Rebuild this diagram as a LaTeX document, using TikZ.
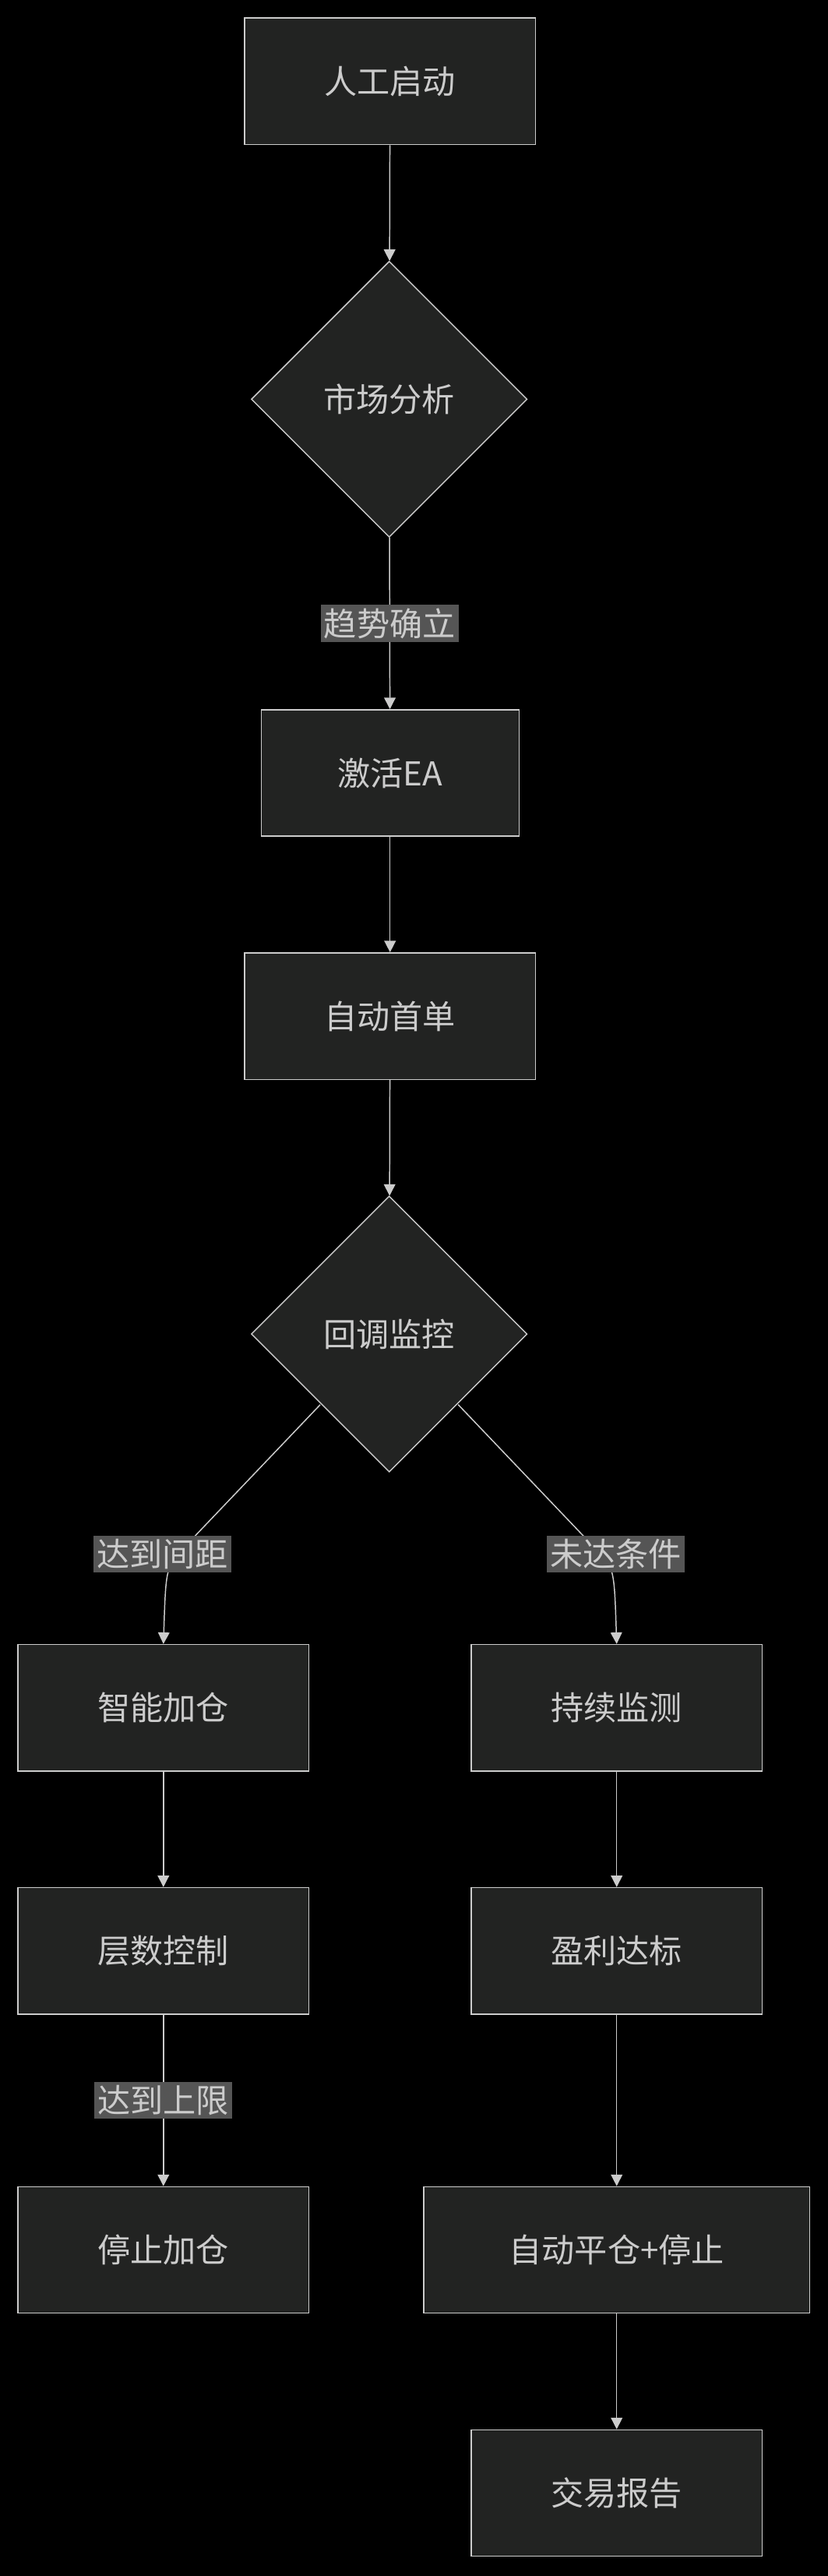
\documentclass[tikz,border=0pt]{standalone}
\usepackage{fontspec}
\setmainfont{Noto Sans CJK SC}
\usetikzlibrary{shapes.geometric,arrows.meta}
\definecolor{bg}{RGB}{0,0,0}
\definecolor{boxfill}{RGB}{34,35,34}
\definecolor{edge}{RGB}{204,204,204}
\definecolor{lblbg}{RGB}{85,85,85}
\tikzset{
  box/.style={rectangle, draw=edge, fill=boxfill, line width=0.7pt, text=edge, minimum width=177pt, minimum height=77pt, font=\fontsize{20}{24}\selectfont},
  dia/.style={diamond, draw=edge, fill=boxfill, line width=0.7pt, text=edge, minimum width=168pt, minimum height=168pt, aspect=1, inner sep=0pt, font=\fontsize{20}{24}\selectfont},
  lbl/.style={fill=lblbg, text=edge, inner sep=2pt, font=\fontsize{20}{24}\selectfont},
  flow/.style={draw=edge, line width=0.7pt, -{Triangle[length=7pt,width=7pt]}}
}
\begin{document}
\begin{tikzpicture}[x=1pt, y=-1pt]
\fill[bg] (0,0) rectangle (504,1568);
\useasboundingbox (0,0) rectangle (504,1568);
\node (start) [box] at (237.5, 49.5) {人工启动};
\node (market) [dia] at (237, 243) {市场分析};
\node (ea) [box, minimum width=157pt] at (237.5, 470.5) {激活EA};
\node (first) [box] at (237.5, 618.5) {自动首单};
\node (watch) [dia] at (237, 812) {回调监控};
\node (add) [box] at (99.5, 1039.5) {智能加仓};
\node (keep) [box] at (375.5, 1039.5) {持续监测};
\node (layer) [box] at (99.5, 1187.5) {层数控制};
\node (profit) [box] at (375.5, 1187.5) {盈利达标};
\node (stop) [box] at (99.5, 1369.5) {停止加仓};
\node (close) [box, minimum width=235pt] at (375.5, 1369.5) {自动平仓+停止};
\node (report) [box] at (375.5, 1517.5) {交易报告};
\draw [flow] (start) -- (market);
\draw [flow] (market) -- node [lbl] {趋势确立} (ea);
\draw [flow] (ea) -- (first);
\draw [flow] (first) -- (watch);
\coordinate (wl) at (195,855);
\coordinate (wr) at (279,855);
\draw [flow] (wl) -- (112,942) .. controls (101,954) .. (add.north);
\draw [flow] (wr) -- (362,942) .. controls (374,954) .. (keep.north);
\node [lbl] at (99, 946) {达到间距};
\node [lbl] at (375, 946) {未达条件};
\draw [flow] (add) -- (layer);
\draw [flow] (layer) -- node [lbl] {达到上限} (stop);
\draw [flow] (keep) -- (profit);
\draw [flow] (profit) -- (close);
\draw [flow] (close) -- (report);
\end{tikzpicture}
\end{document}
